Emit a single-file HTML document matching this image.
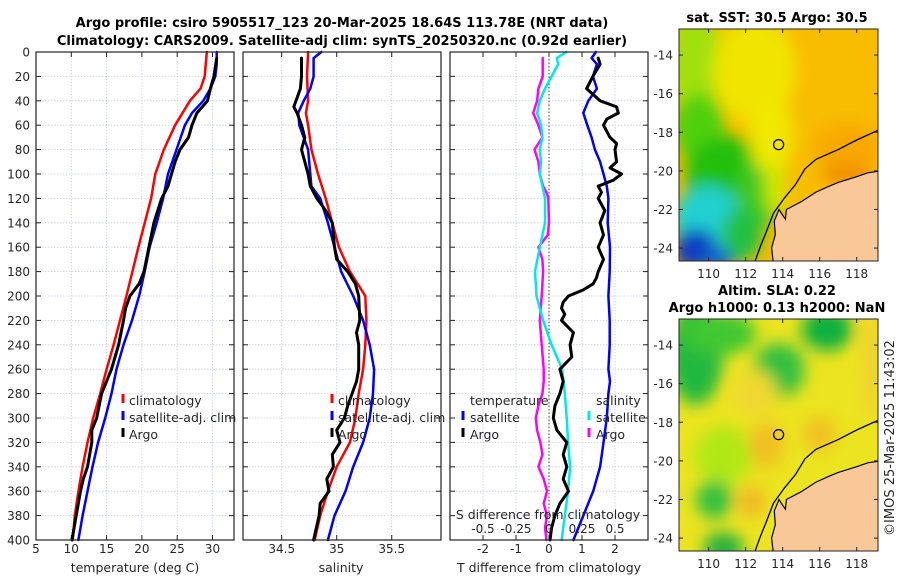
<!DOCTYPE html>
<html><head><meta charset="utf-8"><style>
html,body{margin:0;padding:0;background:#fff;}
svg{display:block;font-family:"DejaVu Sans","Liberation Sans",sans-serif;}
</style></head><body>
<svg id="fig" width="900" height="580" viewBox="0 0 900 580" xmlns="http://www.w3.org/2000/svg">
<defs>
<filter id="blur8" x="-50%" y="-50%" width="200%" height="200%"><feGaussianBlur stdDeviation="8"/></filter>
<clipPath id="clipMap1"><rect x="679" y="29" width="199" height="232"/></clipPath>
<clipPath id="clipMap2"><rect x="679" y="319" width="199" height="232"/></clipPath>
</defs>
<g id="layer"></g>
</svg>
<script>
// ---------- data ----------
const depthTicks = [0,20,40,60,80,100,120,140,160,180,200,220,240,260,280,300,320,340,360,380,400];
const tempTicks = [5,10,15,20,25,30];
const salTicks = [34.5,35,35.5];
const tdiffTicks = [-2,-1,0,1,2];
const sdiffTickLabels = ["-0.5","-0.25","0","0.25","0.5"];
const sdiffTicks = [-0.5,-0.25,0,0.25,0.5];

const tClimDepth = [0,20,30,40,60,80,100,120,160,200,240,260,280,300,320,340,360,380,400];
const tClimVal   = [29.2,28.9,28.3,26.8,24.7,23.1,21.9,21.3,19.5,17.8,16.0,15.0,14.1,13.1,12.3,11.6,11.0,10.5,10.2];
const tSatDepth  = [0,10,20,30,40,50,60,80,100,120,140,160,180,200,220,240,260,280,300,320,340,360,380,400];
const tSatVal    = [30.6,30.6,30.4,29.7,28.7,27.1,26.1,24.9,23.7,23.0,22.1,21.1,20.4,19.6,18.6,17.4,16.4,15.7,14.8,13.8,13.0,12.3,11.6,11.0];
const tArgoDepth = [5,20,30,40,50,60,70,80,90,100,110,120,140,160,180,190,200,210,220,240,260,280,300,310,320,340,350,360,380,400];
const tArgoVal   = [30.6,30.2,29.7,29.3,27.8,27.1,26.6,25.4,24.7,24.2,23.7,22.8,21.7,21.0,20.3,19.6,18.3,17.7,17.4,16.7,15.7,14.3,13.6,12.9,12.9,12.3,11.7,11.3,10.7,10.1];

const sClimDepth = [0,20,40,50,60,80,100,120,140,160,180,200,220,240,260,280,300,320,340,360,380,400];
const sClimVal   = [34.74,34.73,34.74,34.72,34.74,34.77,34.83,34.90,34.96,35.02,35.12,35.26,35.27,35.26,35.24,35.20,35.17,35.12,35.00,34.92,34.85,34.80];
const sSatDepth  = [0,5,20,30,40,50,60,70,80,100,110,120,140,160,180,200,220,240,260,280,300,320,340,360,380,400];
const sSatVal    = [34.86,34.79,34.79,34.76,34.70,34.65,34.66,34.70,34.74,34.76,34.77,34.85,34.92,34.98,35.04,35.15,35.24,35.30,35.34,35.33,35.30,35.24,35.15,35.08,34.98,34.92];
const sArgoDepth = [5,20,30,45,50,60,70,80,90,100,110,120,130,140,150,160,170,180,190,200,220,230,240,260,270,280,290,300,310,320,330,340,350,360,370,380,400];
const sArgoVal   = [34.68,34.68,34.67,34.61,34.64,34.68,34.71,34.68,34.71,34.74,34.76,34.82,34.90,34.96,34.97,34.98,35.00,35.10,35.17,35.20,35.21,35.18,35.20,35.20,35.18,35.14,35.10,35.07,35.00,35.03,34.96,34.97,34.91,34.93,34.85,34.84,34.79];

const dTSatDepth = [0,5,10,20,30,40,50,60,70,80,90,100,110,120,140,160,180,200,220,240,260,270,280,300,320,340,360,380,400];
const dTSatVal   = [1.42,1.29,1.45,1.33,1.45,1.19,1.04,1.16,1.29,1.39,1.55,1.65,1.75,1.80,1.78,1.85,1.84,1.80,1.84,1.84,1.80,1.85,1.80,1.75,1.65,1.55,1.34,1.04,0.74];
const dTArgoDepth = [5,10,20,30,40,45,50,55,60,70,75,80,90,95,100,105,110,115,120,130,140,150,160,170,180,185,190,195,200,205,210,215,220,230,240,250,260,270,280,290,300,310,320,330,340,350,360,370,380,390,400];
const dTArgoVal   = [1.49,1.55,1.33,1.14,1.55,2.05,2.10,1.75,1.65,1.85,2.05,2.00,2.05,1.85,2.20,1.95,1.49,1.59,1.49,1.69,1.55,1.65,1.49,1.65,1.49,1.44,1.34,1.04,0.59,0.43,0.38,0.48,0.38,0.74,0.64,0.69,0.33,0.43,0.33,0.18,0.13,0.24,0.54,0.43,0.54,0.43,0.59,0.33,0.18,0.08,0.03];
const dSSatDepth = [0,5,10,20,30,40,50,60,70,80,90,100,110,120,140,160,180,200,220,240,260,280,300,320,340,360,380,400];
const dSSatVal   = [0.13,0.058,0.07,0.02,-0.03,-0.07,-0.09,-0.06,-0.05,-0.07,-0.06,-0.07,-0.05,-0.03,-0.03,-0.07,-0.106,-0.095,-0.045,0.02,0.10,0.12,0.134,0.145,0.16,0.145,0.12,0.096];
const dSArgoDepth = [5,20,30,40,50,60,70,80,90,100,110,115,120,140,150,160,170,180,200,220,240,260,270,280,290,300,310,320,330,340,350,360,370,380,390,400];
const dSArgoVal   = [-0.048,-0.048,-0.08,-0.09,-0.12,-0.08,-0.05,-0.11,-0.08,-0.07,-0.045,-0.02,-0.005,0.0,-0.01,-0.08,-0.05,-0.045,-0.055,-0.07,-0.055,-0.04,-0.04,-0.05,-0.08,-0.10,-0.09,-0.065,-0.05,-0.08,-0.04,-0.015,-0.04,-0.015,-0.03,-0.02];

const latTicks = [-14,-16,-18,-20,-22,-24];
const lonTicks = [110,112,114,116,118];
const argoLon = 113.78, argoLat = -18.64;

// ---------- helpers ----------
const NS = "http://www.w3.org/2000/svg";
const root = document.getElementById('layer');
function el(tag, attrs, parent, text){
  const e = document.createElementNS(NS, tag);
  for (const k in attrs) e.setAttribute(k, attrs[k]);
  if (text !== undefined) e.textContent = text;
  (parent||root).appendChild(e);
  return e;
}
const Y0 = 52, Y1 = 540;
function yD(d){ return Y0 + (d/400)*(Y1-Y0); }
function lin(d0,d1,r0,r1){ return v => r0 + (v-d0)/(d1-d0)*(r1-r0); }
const panels = [
  {x0:36, x1:234, f: lin(5,33.05,36,234)},
  {x0:243, x1:441, f: lin(34.148,35.948,243,441)},
  {x0:450, x1:648, f: lin(-3,3,450,648)}
];
const xS3 = lin(-0.75,0.75,450,648);
const GRID = '#c9cde6';

function panelFrame(p, name){
  const g = el('g', {}, root);
  
  
  return g;
}
function gridAndTicks(g, p, xticks, xf){
  depthTicks.forEach(d=>{
    const l = el('line',{x1:p.x0,x2:p.x1,y1:yD(d),y2:yD(d),stroke:GRID,'stroke-width':0.8,'stroke-dasharray':'1.5,1.5'},g);
    
    
    el('line',{x1:p.x0,x2:p.x0+5,y1:yD(d),y2:yD(d),stroke:'#222','stroke-width':1},g);
    el('line',{x1:p.x1-5,x2:p.x1,y1:yD(d),y2:yD(d),stroke:'#222','stroke-width':1},g);
  });
  xticks.forEach(t=>{
    const x = xf(t);
    const l = el('line',{x1:x,x2:x,y1:Y0,y2:Y1,stroke:GRID,'stroke-width':0.8,'stroke-dasharray':'1.5,1.5'},g);
    
    
    el('line',{x1:x,x2:x,y1:Y1-5,y2:Y1,stroke:'#222','stroke-width':1},g);
    el('line',{x1:x,x2:x,y1:Y0,y2:Y0+5,stroke:'#222','stroke-width':1},g);
  });
}
function frame(g,p){
  const r = el('rect',{x:p.x0,y:Y0,width:p.x1-p.x0,height:Y1-Y0,fill:'none',stroke:'#222','stroke-width':1.2},g);
  
  
}
function series(g, depths, vals, xf, color, w, name){
  const pts = depths.map((d,i)=> xf(vals[i]).toFixed(1)+','+yD(d).toFixed(1)).join(' ');
  const pl = el('polyline',{points:pts,fill:'none',stroke:color,'stroke-width':w,'stroke-linejoin':'round','stroke-linecap':'round'},g);
  
  
}
function text(g, x, y, s, opts, name){
  const a = Object.assign({x:x,y:y,'font-size':12,fill:'#262626'}, opts||{});
  const t = el('text', a, g, s);
  
  
  return t;
}
function legendMark(g,x,y,color,name){
  const m = el('line',{x1:x,x2:x,y1:y-11,y2:y-2,stroke:color,'stroke-width':3},g);
  
  
}

// ---------- titles ----------
text(root, 342, 27, "Argo profile: csiro 5905517_123 20-Mar-2025 18.64S 113.78E (NRT data)", {'text-anchor':'middle','font-weight':'bold','font-size':13,fill:'#000'}, 'figure-title-line1');
text(root, 342, 45, "Climatology: CARS2009. Satellite-adj clim: synTS_20250320.nc (0.92d earlier)", {'text-anchor':'middle','font-weight':'bold','font-size':13,fill:'#000'}, 'figure-title-line2');

// ---------- panel 1: temperature ----------
{
  const p = panels[0];
  const g = panelFrame(p,'temperature-panel');
  gridAndTicks(g,p,tempTicks,p.f);
  series(g,tClimDepth,tClimVal,p.f,'#ff0000',2.5,'temp-climatology-line');
  series(g,tSatDepth,tSatVal,p.f,'#0000ff',2.5,'temp-satellite-line');
  series(g,tArgoDepth,tArgoVal,p.f,'#000000',3,'temp-argo-line');
  frame(g,p);
  depthTicks.forEach(d=> text(g, 30, yD(d)+4.5, String(d), {'text-anchor':'end'}, 'y-tick-label'));
  tempTicks.forEach(t=> text(g, p.f(t), 553, String(t), {'text-anchor':'middle'}, 'x-tick-label'));
  text(g, 135, 572, "temperature (deg C)", {'text-anchor':'middle','font-size':12.5}, 'x-axis-title');
  const lg = el('g',{},g);  
  legendMark(lg,123,405,'#ff0000','legend-mark-climatology'); text(lg,129,405,"climatology",{'font-size':12.5},'legend-entry-climatology');
  legendMark(lg,123,422,'#0000ff','legend-mark-satellite'); text(lg,129,422,"satellite-adj. clim",{'font-size':12.5},'legend-entry-satellite');
  legendMark(lg,123,439,'#000000','legend-mark-argo'); text(lg,129,439,"Argo",{'font-size':12.5},'legend-entry-argo');
}
// ---------- panel 2: salinity ----------
{
  const p = panels[1];
  const g = panelFrame(p,'salinity-panel');
  gridAndTicks(g,p,salTicks,p.f);
  series(g,sClimDepth,sClimVal,p.f,'#ff0000',2.5,'sal-climatology-line');
  series(g,sSatDepth,sSatVal,p.f,'#0000ff',2.5,'sal-satellite-line');
  series(g,sArgoDepth,sArgoVal,p.f,'#000000',3,'sal-argo-line');
  frame(g,p);
  salTicks.forEach(t=> text(g, p.f(t), 553, String(t), {'text-anchor':'middle'}, 'x-tick-label'));
  text(g, 341, 572, "salinity", {'text-anchor':'middle','font-size':12.5}, 'x-axis-title');
  const lg = el('g',{},g);  
  legendMark(lg,332,405,'#ff0000','legend-mark-climatology'); text(lg,338,405,"climatology",{'font-size':12.5},'legend-entry-climatology');
  legendMark(lg,332,422,'#0000ff','legend-mark-satellite'); text(lg,338,422,"satellite-adj. clim",{'font-size':12.5},'legend-entry-satellite');
  legendMark(lg,332,439,'#000000','legend-mark-argo'); text(lg,338,439,"Argo",{'font-size':12.5},'legend-entry-argo');
}
// ---------- panel 3: differences ----------
{
  const p = panels[2];
  const g = panelFrame(p,'difference-panel');
  gridAndTicks(g,p,tdiffTicks,p.f);
  const z = el('line',{x1:p.f(0),x2:p.f(0),y1:Y0,y2:Y1,stroke:'#4a4a20','stroke-width':1,'stroke-dasharray':'1.5,2'},g);
   
  series(g,dSArgoDepth,dSArgoVal,xS3,'#ff00ff',2.5,'sdiff-argo-line');
  series(g,dSSatDepth,dSSatVal,xS3,'#00e8e8',2.5,'sdiff-satellite-line');
  series(g,dTSatDepth,dTSatVal,p.f,'#0000ff',2.5,'tdiff-satellite-line');
  series(g,dTArgoDepth,dTArgoVal,p.f,'#000000',3,'tdiff-argo-line');
  frame(g,p);
  tdiffTicks.forEach(t=> text(g, p.f(t), 553, String(t), {'text-anchor':'middle'}, 'x-tick-label'));
  text(g, 549, 572, "T difference from climatology", {'text-anchor':'middle','font-size':12.5}, 'x-axis-title');
  text(g, 548, 519, "S difference from climatology", {'text-anchor':'middle','font-size':12.5}, 's-axis-title');
  sdiffTicks.forEach((t,i)=> text(g, xS3(t), 533, sdiffTickLabels[i], {'text-anchor':'middle'}, 's-tick-label'));
  const lg = el('g',{},g);  
  text(lg,470,405,"temperature",{'font-size':12.5},'legend-header-temperature');
  legendMark(lg,463,422,'#0000ff','legend-mark-t-satellite'); text(lg,470,422,"satellite",{'font-size':12.5},'legend-entry-t-satellite');
  legendMark(lg,463,439,'#000000','legend-mark-t-argo'); text(lg,470,439,"Argo",{'font-size':12.5},'legend-entry-t-argo');
  text(lg,596,405,"salinity",{'font-size':12.5},'legend-header-salinity');
  legendMark(lg,589,422,'#00e8e8','legend-mark-s-satellite'); text(lg,596,422,"satellite",{'font-size':12.5},'legend-entry-s-satellite');
  legendMark(lg,589,439,'#ff00ff','legend-mark-s-argo'); text(lg,596,439,"Argo",{'font-size':12.5},'legend-entry-s-argo');
}

// ---------- maps ----------
const LON0=108.4, LON1=119.15, LAT0=-12.65, LAT1=-24.67;
const landPoly = [[119.3,-20.0],[118.6,-20.1],[118,-20.3],[117,-20.6],[116.5,-20.8],[115.8,-21.1],[115,-21.6],[114.6,-21.8],[114.2,-22.0],[114.15,-22.5],[114.0,-22.3],[113.8,-22.0],[113.55,-22.6],[113.6,-23.3],[113.4,-24.0],[113.5,-24.8],[119.3,-24.8]];
const shelfLine = [[119.15,-17.9],[118,-18.4],[117,-18.9],[115.8,-19.4],[115.2,-19.9],[114.7,-20.7],[114.1,-21.4],[113.5,-22.2],[113.1,-23.2],[112.8,-23.9],[112.5,-24.7]];
function drawMap(top, name, clipId, blobs, base){
  const bottom = top+232, left=679, right=878;
  const mx = lin(LON0,LON1,left,right), my = lin(LAT0,LAT1,top,bottom);
  const g = el('g',{},root);  
  const cg = el('g',{'clip-path':'url(#'+clipId+')'},g);
  el('rect',{x:left,y:top,width:right-left,height:bottom-top,fill:base},cg);
  const bg = el('g',{filter:'url(#blur8)'},cg);
  blobs.forEach(b=>{
    const e = el('ellipse',{cx:mx(b[0]),cy:my(b[1]),rx:b[2]*18.35,ry:b[3]*19.3,fill:b[4]},bg);
     
  });
  const land = el('polygon',{points:landPoly.map(q=>mx(q[0]).toFixed(1)+','+my(q[1]).toFixed(1)).join(' '),fill:'#f8c898',stroke:'#000','stroke-width':1.2},cg);
   
  const sh = el('polyline',{points:shelfLine.map(q=>mx(q[0]).toFixed(1)+','+my(q[1]).toFixed(1)).join(' '),fill:'none',stroke:'#000','stroke-width':1.3},cg);
   
  const c = el('circle',{cx:mx(argoLon),cy:my(argoLat),r:5,fill:'none',stroke:'#000','stroke-width':1.3},g);
   
  const fr = el('rect',{x:left,y:top,width:right-left,height:bottom-top,fill:'none',stroke:'#222','stroke-width':1},g);
   
  latTicks.forEach(t=>{
    el('line',{x1:left,x2:left+4,y1:my(t),y2:my(t),stroke:'#222'},g);
    el('line',{x1:right-4,x2:right,y1:my(t),y2:my(t),stroke:'#222'},g);
    text(g,673,my(t)+4.5,String(t),{'text-anchor':'end'},'lat-tick-label');
  });
  lonTicks.forEach(t=>{
    el('line',{x1:mx(t),x2:mx(t),y1:bottom-4,y2:bottom,stroke:'#222'},g);
    el('line',{x1:mx(t),x2:mx(t),y1:top,y2:top+4,stroke:'#222'},g);
    text(g,mx(t),bottom+17,String(t),{'text-anchor':'middle'},'lon-tick-label');
  });
}
drawMap(29,'sst-map','clipMap1',[
  [109.3,-14.5,1.4,3,'#a0e010'],
  [112.5,-14.8,2.3,2.8,'#f0e400'],
  [109.5,-17.8,1.4,1.8,'#50d010'],
  [111,-20.2,2.3,2.0,'#20c010'],
  [112.7,-21.2,1.2,1.8,'#40c820'],
  [109.9,-22.5,1.9,1.7,'#20d0d0'],
  [111.8,-23.3,1.1,1.4,'#20c040'],
  [109.3,-24.1,1.2,1.1,'#0838c0'],
  [110.4,-24.6,1.0,0.6,'#1060d0'],
  [113.4,-18.2,1.2,2.0,'#f0e800'],
  [113.6,-20.9,0.6,1.3,'#d0e800'],
  [117.5,-18.8,1.9,1.2,'#f8a800'],
  [117.5,-20.2,1.4,0.6,'#f09000']
], '#f8bc00');
drawMap(319,'sla-map','clipMap2',[
  [109.3,-14.5,1.5,2.6,'#20b840'],
  [110.6,-13.4,2.0,1.1,'#40c830'],
  [113.8,-15.3,1.4,1.4,'#30c040'],
  [116.4,-13.2,1.4,1.1,'#10b040'],
  [110.8,-19.7,1.6,1.5,'#b0e818'],
  [110.3,-22,1.0,1.0,'#30c040'],
  [110.8,-24.5,1.1,0.8,'#20b040'],
  [113.1,-19.2,1.0,1.2,'#f0c020'],
  [116,-18.6,0.9,0.9,'#f0c020'],
  [112.3,-22.1,0.8,0.8,'#f0b828'],
  [112.5,-16.5,1.2,1.2,'#f0d830'],
  [118.8,-15,0.5,3,'#f0d030']
], '#ece420');

text(root, 777, 22, "sat. SST: 30.5 Argo: 30.5", {'text-anchor':'middle','font-weight':'bold','font-size':13,fill:'#000'}, 'sst-map-title');
text(root, 777, 295, "Altim. SLA: 0.22", {'text-anchor':'middle','font-weight':'bold','font-size':13,fill:'#000'}, 'sla-map-title-line1');
text(root, 777, 312, "Argo h1000: 0.13 h2000: NaN", {'text-anchor':'middle','font-weight':'bold','font-size':13,fill:'#000'}, 'sla-map-title-line2');
text(root, 0, 0, "©IMOS 25-Mar-2025 11:43:02", {'text-anchor':'middle','font-size':13,transform:'translate(894,438) rotate(-90)'}, 'copyright-timestamp');
</script>
</body></html>
